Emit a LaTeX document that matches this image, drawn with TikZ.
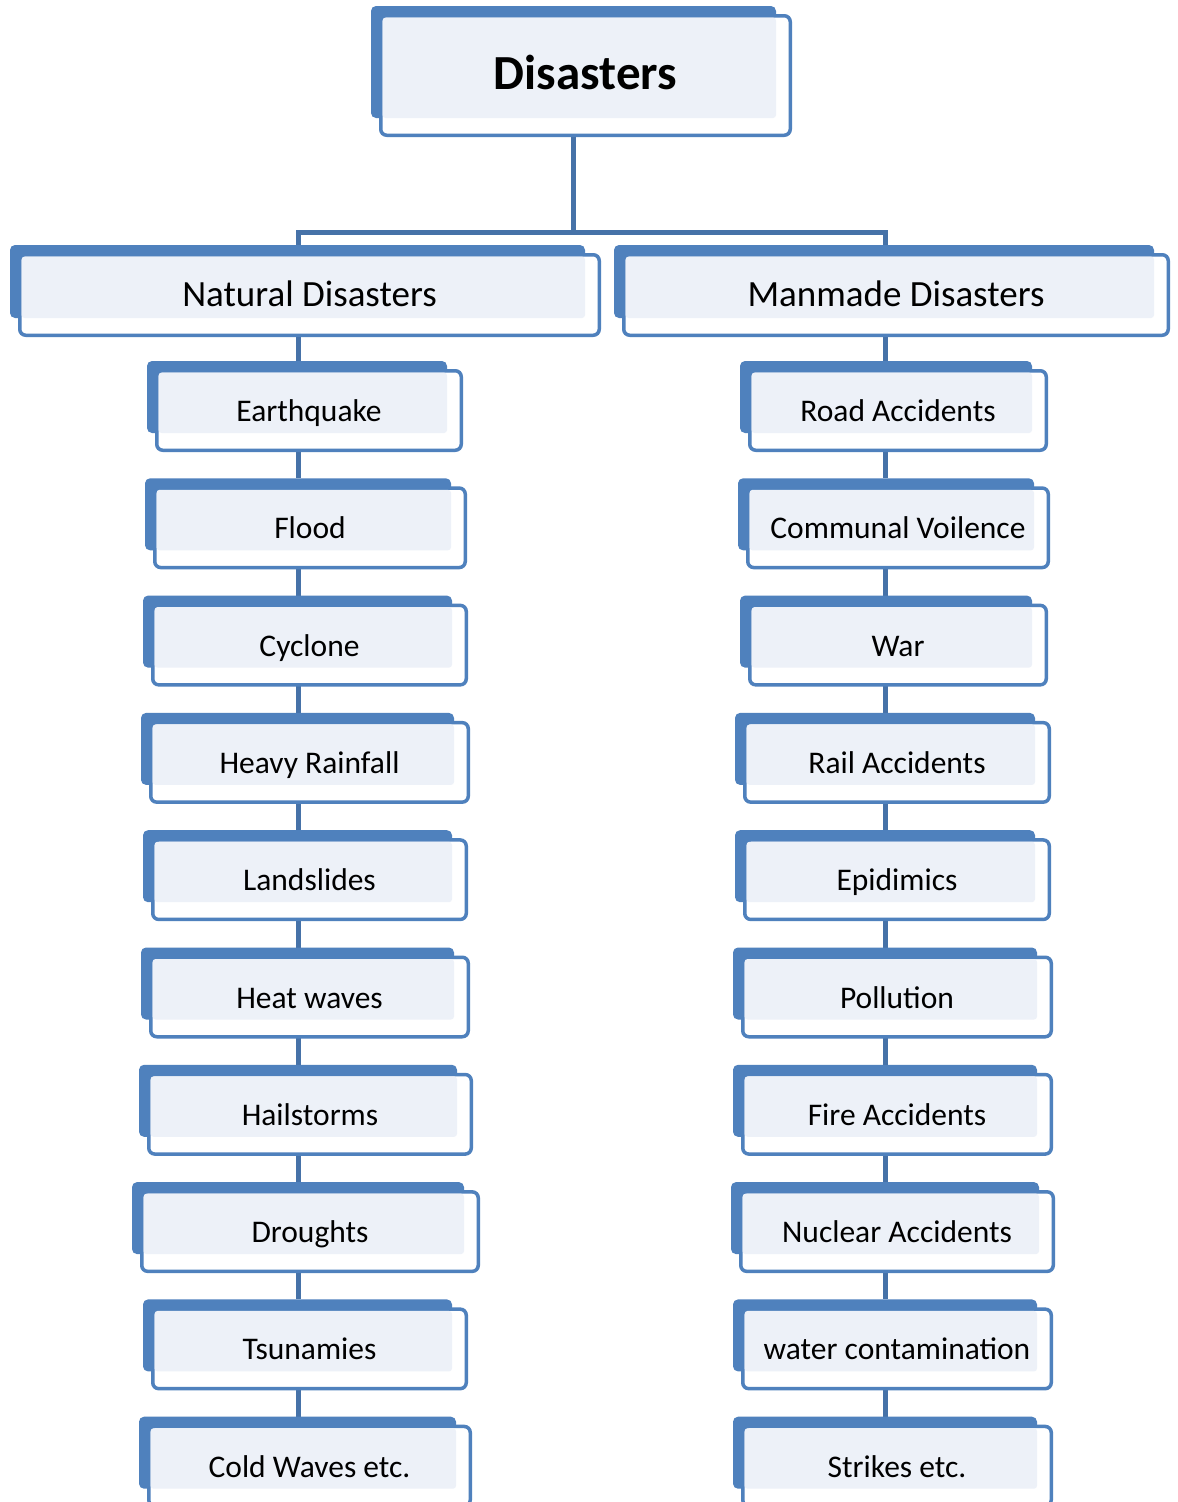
\documentclass[tikz,border=0pt]{standalone}
\usepackage{fontspec}
\setmainfont{Carlito}
\pgfdeclarelayer{paper}
\pgfdeclarelayer{bg}
\pgfsetlayers{paper,bg,main}
\definecolor{dblue}{RGB}{79,129,189}
\definecolor{cblue}{RGB}{70,114,168}
\definecolor{lfill}{RGB}{237,241,248}
\tikzset{
  backbox/.style={fill=dblue, rounded corners=5pt, inner sep=0pt, outer sep=0pt},
  frontbox/.style={fill=white, draw=dblue, line width=3.5pt, rounded corners=6pt, inner sep=0pt, outer sep=0pt},
  lightbox/.style={fill=lfill, rounded corners=3pt},
  conn/.style={draw=cblue, line width=5pt},
  lvlA/.style={font=\fontsize{49}{52}\selectfont\bfseries},
  lvlB/.style={font=\fontsize{37}{40}\selectfont},
  lvlC/.style={font=\fontsize{31.5}{34}\selectfont},
}
% #1 name, #2 L, #3 T, #4 R, #5 B, #6 style, #7 text, #8 baseline offset
\newcommand\dbox[8]{%
  \pgfmathsetmacro\bw{#4-16-#2}%
  \pgfmathsetmacro\bh{#5-19-#3}%
  \pgfmathsetmacro\bcx{(#4-16+#2)/2}%
  \pgfmathsetmacro\bcy{(#5-19+#3)/2}%
  \pgfmathsetmacro\fw{#4-#2-8-3.5}%
  \pgfmathsetmacro\fh{#5-#3-8-3.5}%
  \pgfmathsetmacro\fcx{(#4+#2+8)/2}%
  \pgfmathsetmacro\fcy{(#5+#3+8)/2}%
  \pgfmathsetmacro\tby{#3+#8}%
  \node[backbox, minimum width=\bw pt, minimum height=\bh pt] (#1b) at (\bcx,\bcy) {};
  \node[frontbox, minimum width=\fw pt, minimum height=\fh pt] (#1) at (\fcx,\fcy) {};
  \fill[lightbox] ([shift={(1.8pt,-1.8pt)}]#1.north west) rectangle (#1b.south east);
  \node[#6, anchor=base, inner sep=0pt] (#1t) at (\fcx,\tby) {#7};
}
\begin{document}
\begin{tikzpicture}[x=1pt,y=-1pt]
\begin{pgfonlayer}{paper}
\fill[white] (0,0) rectangle (1178,1502);
\end{pgfonlayer}
\useasboundingbox (0,0) rectangle (1178,1502);
\coordinate (xL) at (298,0);
\coordinate (xR) at (885,0);
\coordinate (j) at (573,232);

\dbox{dis}{371}{6}{792}{137}{lvlA}{Disasters}{83}
\dbox{nat}{10}{245}{601}{337}{lvlB}{Natural Disasters}{61}
\dbox{man}{614}{245}{1170}{337}{lvlB}{Manmade Disasters}{61}

% left column
\dbox{n1}{147}{361}{463}{452}{lvlC}{Earthquake}{60.5}
\dbox{n2}{145}{478.3}{467}{569.3}{lvlC}{Flood}{60.5}
\dbox{n3}{143}{595.6}{468}{686.6}{lvlC}{Cyclone}{60.5}
\dbox{n4}{141}{712.9}{470}{803.9}{lvlC}{Heavy Rainfall}{60.5}
\dbox{n5}{143}{830.2}{468}{921.2}{lvlC}{Landslides}{60.5}
\dbox{n6}{141}{947.5}{470}{1038.5}{lvlC}{Heat waves}{60.5}
\dbox{n7}{139}{1064.8}{473}{1155.8}{lvlC}{Hailstorms}{60.5}
\dbox{n8}{132}{1182.1}{480}{1273.1}{lvlC}{Droughts}{60.5}
\dbox{n9}{143}{1299.4}{468}{1390.4}{lvlC}{Tsunamies}{60.5}
\dbox{n10}{139}{1416.7}{472}{1507.7}{lvlC}{Cold Waves etc.}{60.5}

% right column
\dbox{m1}{740}{361}{1048}{452}{lvlC}{Road Accidents}{60.5}
\dbox{m2}{738}{478.3}{1050}{569.3}{lvlC}{Communal Voilence}{60.5}
\dbox{m3}{740}{595.6}{1048}{686.6}{lvlC}{War}{60.5}
\dbox{m4}{735}{712.9}{1051}{803.9}{lvlC}{Rail Accidents}{60.5}
\dbox{m5}{735}{830.2}{1051}{921.2}{lvlC}{Epidimics}{60.5}
\dbox{m6}{733}{947.5}{1053}{1038.5}{lvlC}{Pollution}{60.5}
\dbox{m7}{733}{1064.8}{1053}{1155.8}{lvlC}{Fire Accidents}{60.5}
\dbox{m8}{731}{1182.1}{1055}{1273.1}{lvlC}{Nuclear Accidents}{60.5}
\dbox{m9}{733}{1299.4}{1053}{1390.4}{lvlC}{water contamination}{60.5}
\dbox{m10}{733}{1416.7}{1053}{1507.7}{lvlC}{Strikes etc.}{60.5}

\begin{pgfonlayer}{bg}
  \draw[conn] (dis.south -| j) -- (j);
  \draw[conn] (natb.north -| xL) -- (xL |- j) -- (xR |- j) -- (manb.north -| xR);
  \draw[conn] (nat.south -| xL) -- (n1b.north -| xL);
  \draw[conn] (man.south -| xR) -- (m1b.north -| xR);
  \foreach \a/\b in {1/2,2/3,3/4,4/5,5/6,6/7,7/8,8/9,9/10}{
    \draw[conn] (n\a.south -| xL) -- (n\b b.north -| xL);
    \draw[conn] (m\a.south -| xR) -- (m\b b.north -| xR);
  }
\end{pgfonlayer}
\end{tikzpicture}
\end{document}
